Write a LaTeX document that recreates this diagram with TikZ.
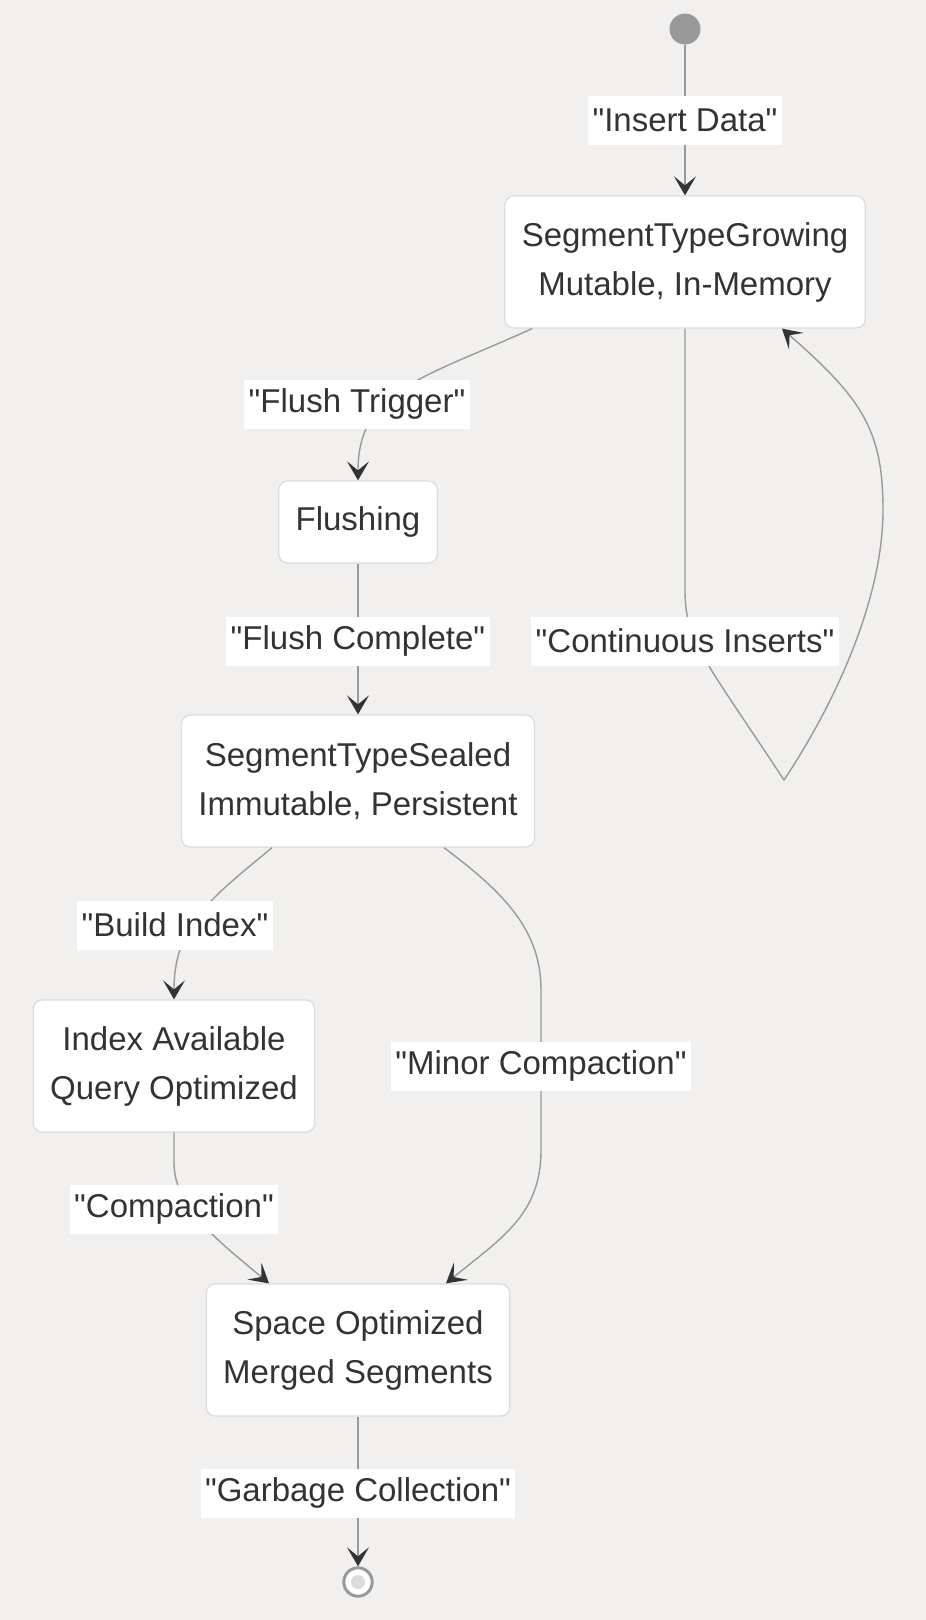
\documentclass[tikz,border=0pt]{standalone}
\usepackage{fontspec}
\setmainfont{Liberation Sans}[Ligatures=TeXOff]
\usetikzlibrary{arrows.meta,calc}
\definecolor{bgcol}{HTML}{F1F0EE}
\definecolor{ink}{HTML}{333333}
\definecolor{wire}{HTML}{999999}
\definecolor{rim}{HTML}{DCDCDC}
\begin{document}
    \begin{tikzpicture}[x=1pt, y=-1pt,
        state/.style={draw=rim, line width=1.3pt, fill=white, rounded corners=9pt, inner xsep=17pt, minimum height=82pt, align=center, text=ink, font=\fontsize{33}{49}\selectfont},
        tall/.style={minimum height=132pt},
        lbl/.style={fill=white, inner xsep=4.5pt, inner ysep=0pt, minimum height=49pt, text=ink, font=\fontsize{33}{49}\selectfont},
        trans/.style={draw=wire, line width=1.4pt, -{Stealth[length=19pt, width=22pt, inset=9pt, color=ink]}}]
        \fill[bgcol] (0,0) rectangle (926,1620);
        \node[circle, fill=wire, minimum size=31pt, inner sep=0pt] (start) at (685,29) {};
        \node[state, tall] (grow) at (685,262) {SegmentTypeGrowing\\Mutable, In-Memory};
        \node[state] (flush) at (358,522) {Flushing};
        \node[state, tall] (sealed) at (358,781) {SegmentTypeSealed\\Immutable, Persistent};
        \node[state, tall] (index) at (174,1066) {Index Available\\Query Optimized};
        \node[state, tall] (space) at (358,1350) {Space Optimized\\Merged Segments};
        \node[circle, draw=wire, line width=3pt, fill=white, minimum size=28.4pt, inner sep=0pt] (stop) at (358,1582) {};
        \fill[rim] (stop) circle (7pt);
        \coordinate (turn) at (784,780);
        \draw[trans] (start.south) -- (grow.north);
        \draw[trans] ($(grow.south)+(-153,0)$) .. controls +(-110,50) and +(0,-90) .. (flush.north);
        \draw[trans] (grow.south) -- ++(0,262) .. controls +(0,50) and +(-79,-120) .. (turn) .. controls +(50,-75) and +(0,90) .. ++(99,-270) .. controls +(0,-80) and +(80,70) .. ($(grow.south)+(97,0)$);
        \draw[trans] (flush.south) -- (sealed.north);
        \draw[trans] ($(sealed.south)+(-86,0)$) .. controls +(-60,50) and +(0,-75) .. (index.north);
        \draw[trans] ($(sealed.south)+(86,0)$) .. controls +(60,45) and +(0,-60) .. (541,990) -- (541,1150) .. controls +(0,65) and +(55,-45) .. ($(space.north)+(88,0)$);
        \draw[trans] (index.south) -- ++(0,30) .. controls +(0,45) and +(-50,-42) .. ($(space.north)+(-89,0)$);
        \draw[trans] (space.south) -- (stop.north);
        \node[lbl] (lInsert) at (685,120) {"Insert Data"};
        \node[lbl] (lTrigger) at (357,404) {"Flush Trigger"};
        \node[lbl] (lComplete) at (358,641) {"Flush Complete"};
        \node[lbl] (lInserts) at (685,641) {"Continuous Inserts"};
        \node[lbl] (lBuild) at (175,925) {"Build Index"};
        \node[lbl] (lMinor) at (541,1066) {"Minor Compaction"};
        \node[lbl] (lCompact) at (174,1209) {"Compaction"};
        \node[lbl] (lGarbage) at (358,1493) {"Garbage Collection"};
    \end{tikzpicture}
\end{document}
